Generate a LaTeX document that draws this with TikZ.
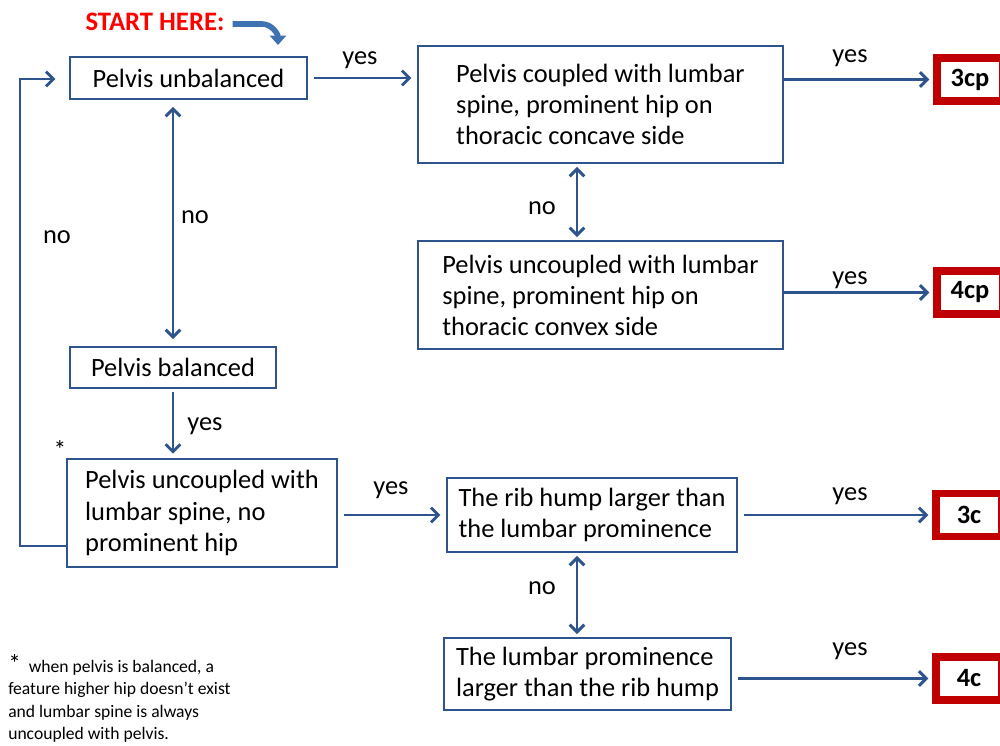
\documentclass[tikz,border=0pt]{standalone}
\usepackage{fontspec}
\setmainfont{Carlito}
\usetikzlibrary{arrows.meta,calc}
\definecolor{myblue}{HTML}{2E548E}
\definecolor{startblue}{HTML}{3F72B2}
\definecolor{resred}{HTML}{C00000}
\begin{document}
\begin{tikzpicture}[x=0.75pt,y=-0.75pt,
  bx/.style={draw=myblue, line width=1.9pt, font=\fontsize{19.8}{23.3}\selectfont, align=left, inner sep=0pt, anchor=center},
  res/.style={draw=resred, line width=5.6pt, font=\fontsize{19.8}{22}\selectfont\bfseries, inner sep=0pt, anchor=center, minimum width=66*0.75pt, minimum height=43*0.75pt},
  lbl/.style={font=\fontsize{19.8}{22}\selectfont, inner sep=0pt, anchor=center},
  arr/.style={draw=myblue, line width=2.2pt, -{Straight Barb[length=5.5pt,width=11pt,line width=2.2pt]}},
  darr/.style={draw=myblue, line width=2.2pt, {Straight Barb[length=5.5pt,width=11pt,line width=2.2pt]}-{Straight Barb[length=5.5pt,width=11pt,line width=2.2pt]}}
]
\useasboundingbox (0,0) rectangle (1000,746);
\begin{scope}
\clip (0,0) rectangle (1000,746);
% boxes
\node[bx, minimum width=237*0.75pt, minimum height=42*0.75pt] (PU) at (188.5,78) {Pelvis unbalanced};
\node[bx, minimum width=365*0.75pt, minimum height=117*0.75pt] (PC) at (600.5,104.5) {Pelvis coupled with lumbar\\spine, prominent hip on\\thoracic concave side};
\node[bx, minimum width=365*0.75pt, minimum height=108*0.75pt] (PX) at (600.5,295) {Pelvis uncoupled with lumbar\\spine, prominent hip on\\thoracic convex side};
\node[bx, minimum width=206*0.75pt, minimum height=41*0.75pt] (PB) at (173,367.5) {Pelvis balanced};
\node[bx, minimum width=270*0.75pt, minimum height=108*0.75pt] (PN) at (202,513) {Pelvis uncoupled with\\lumbar spine, no\\prominent hip};
\node[bx, minimum width=290*0.75pt, minimum height=74*0.75pt] (RH) at (592,515) {The rib hump larger than\\the lumbar prominence};
\node[bx, minimum width=287*0.75pt, minimum height=72*0.75pt] (LP) at (587.5,674) {The lumbar prominence\\larger than the rib hump};
% results
\node[res] (R3cp) at (970,79.5) {3cp};
\node[res] (R4cp) at (970,292.5) {4cp};
\node[res] (R3c) at (969,515) {3c};
\node[res] (R4c) at (969,678.5) {4c};
\end{scope}
% start
\node[font=\fontsize{20}{22}\selectfont\bfseries, text=red, inner sep=0pt, anchor=center] (start) at (155,22) {START HERE:};
\coordinate (starttip) at (278,45);
\draw[startblue, line width=4.2pt, -{Triangle[length=7pt,width=12pt]}] ($(start.east)+(8,2)$) -- (262,24) to[out=0,in=90] (starttip);
% connectors
\draw[arr, shorten <=4pt, shorten >=4pt] (PU.east) -- (PU.east -| PC.west);
\node[lbl] (y1) at (360,60) {yes};
\draw[arr, shorten >=3pt] (PC.east |- R3cp) -- (R3cp.west);
\node[lbl] (y2) at (850,58) {yes};
\draw[arr, shorten >=3pt] (PX.east |- R4cp) -- (R4cp.west);
\node[lbl] (y3) at (850,280) {yes};
\draw[darr, shorten <=2pt, shorten >=2pt] (PC.south -| 577,0) -- (PX.north -| 577,0);
\node[lbl] (n1) at (542,208) {no};
\draw[darr, shorten <=5pt, shorten >=5pt] (PB.north |- PU.south) -- (PB.north);
\node[lbl] (n2) at (195,217) {no};
\draw[arr, shorten <=2pt, shorten >=3pt] (PB.south) -- (PB.south |- PN.north);
\node[lbl] (y4) at (205,426) {yes};
\draw[arr, shorten <=4pt, shorten >=4pt] (PN.east |- RH) -- (RH.west);
\node[lbl] (y5) at (391,490) {yes};
\draw[arr, shorten <=4pt, shorten >=3pt] (RH.east) -- (R3c.west);
\node[lbl] (y6) at (850,496) {yes};
\draw[darr, shorten <=2pt, shorten >=2pt] (RH.south -| 577,0) -- (LP.north -| 577,0);
\node[lbl] (n3) at (542,588) {no};
\draw[arr, shorten <=4pt, shorten >=3pt] (LP.east |- R4c) -- (R4c.west);
\node[lbl] (y7) at (850,651) {yes};
\coordinate (loopstart) at (PN.west |- 20,546);
\draw[arr, shorten >=10pt] (loopstart) -- (20,546) -- (20,79) -- (PU.west |- 0,79);
\node[lbl] (n4) at (57,237) {no};
% notes
\node[font=\fontsize{19}{19}\selectfont, inner sep=0pt] (ast) at (60,450) {*};
\node[font=\fontsize{13.2}{16.9}\selectfont, align=left, inner sep=0pt, anchor=south west] (note) at (8,743) {{\fontsize{19}{12}\selectfont *}\ \ when pelvis is balanced, a\\feature higher hip doesn’t exist\\and lumbar spine is always\\uncoupled with pelvis.};
\end{tikzpicture}
\end{document}
